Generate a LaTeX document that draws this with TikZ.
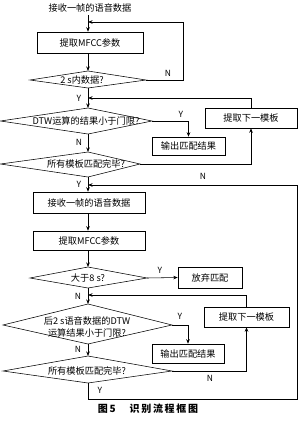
\documentclass[tikz,border=0pt]{standalone}
\usepackage{fontspec}
\setmainfont{Noto Sans CJK SC}
\usetikzlibrary{arrows.meta}
\begin{document}
\begin{tikzpicture}[x=1pt,y=-1pt,
  line width=0.55pt,
  every node/.style={font=\fontsize{9.2}{10}\selectfont, inner sep=0pt},
  box/.style={draw, rectangle},
  lbl/.style={font=\fontsize{8.5}{10}\selectfont},
  arr/.style={-{Stealth[length=4.5pt,width=3.5pt]}}]
\useasboundingbox (0,0) rectangle (300,426);
\fill[white] (0,0) rectangle (300,426);

% top text
\node (t0) at (90,8) {接收一帧的语音数据};
\coordinate (t0b) at (88,15);

% boxes
\node[box, minimum width=106pt, minimum height=21pt] (b1) at (90,42.5) {提取MFCC参数};
\node[box, minimum width=92pt, minimum height=20pt] (n1) at (251,118) {提取下一模板};
\node[box, minimum width=73pt, minimum height=18pt] (o1) at (188.5,146) {输出匹配结果};
\node[box, minimum width=112pt, minimum height=21pt] (r2) at (89,202.5) {接收一帧的语音数据};
\node[box, minimum width=112pt, minimum height=19pt] (m2) at (89,240.5) {提取MFCC参数};
\node[box, minimum width=64pt, minimum height=21pt] (dr) at (210,277.5) {放弃匹配};
\node[box, minimum width=85pt, minimum height=20pt] (n2) at (246.5,317) {提取下一模板};
\node[box, minimum width=72pt, minimum height=19pt] (o2) at (188,353.5) {输出匹配结果};

% diamond 1
\coordinate (d1T) at (88,71); \coordinate (d1L) at (30,80);
\coordinate (d1R) at (146,80); \coordinate (d1B) at (88,88);
\draw (d1T) -- (d1R) -- (d1B) -- (d1L) -- cycle;
\node (d1) at (82,80) {2 s内数据?};

% diamond 2
\coordinate (d2T) at (88,108); \coordinate (d2L) at (0.5,121);
\coordinate (d2R) at (152,121); \coordinate (d2B) at (88,134);
\draw (d2T) -- (d2R) -- (d2B) -- (d2L) -- cycle;
\node (d2) at (86,121) {DTW运算的结果小于门限?};

% diamond 3
\coordinate (d3T) at (88,152); \coordinate (d3L) at (0.5,164);
\coordinate (d3R) at (140,164); \coordinate (d3B) at (88,177);
\draw (d3T) -- (d3R) -- (d3B) -- (d3L) -- cycle;
\node (d3) at (86,164) {所有模板匹配完毕?};

% diamond 4
\coordinate (d4T) at (88,267); \coordinate (d4L) at (30,278);
\coordinate (d4R) at (147,278); \coordinate (d4B) at (88,288);
\draw (d4T) -- (d4R) -- (d4B) -- (d4L) -- cycle;
\node (d4) at (88,278) {大于8 s?};

% diamond 5
\coordinate (d5T) at (88,304); \coordinate (d5L) at (3,325);
\coordinate (d5R) at (172,325); \coordinate (d5B) at (88,344);
\draw (d5T) -- (d5R) -- (d5B) -- (d5L) -- cycle;
\node[align=center, font=\fontsize{9.2}{11.5}\selectfont] (d5) at (87,327) {后2 s语音数据的DTW\\运算结果小于门限?};

% diamond 6
\coordinate (d6T) at (88,356); \coordinate (d6L) at (3,371);
\coordinate (d6R) at (172,371); \coordinate (d6B) at (88,383);
\draw (d6T) -- (d6R) -- (d6B) -- (d6L) -- cycle;
\node (d6) at (87,371) {所有模板匹配完毕?};

% helper coordinates
\coordinate (j1) at (88,22);
\coordinate (j2) at (88,98);
\coordinate (j3) at (88,185);
\coordinate (j4) at (88,295);

% connectors
\draw[arr] (t0b) -- (b1.north -| t0b);
\draw[arr] (b1.south -| d1T) -- (d1T);
\draw[arr] (d1R) -- (183,80) -- (183,22) -- (j1);
\draw[arr] (d1B) -- (d2T);
\draw[arr] (n1.north) -- (n1.north |- j2) -- (j2);
\draw[arr] (d2R) -- (o1.north |- d2R) -- (o1.north);
\draw[arr] (d2B) -- (d3T);
\draw[arr] (d3R) -- (n1.south |- d3R) -- (n1.south);
\draw[arr] (d3B) -- (r2.north -| d3B);
\draw[arr] (r2.south -| d3B) -- (m2.north -| d3B);
\draw[arr] (m2.south -| d3B) -- (d4T);
\draw[arr] (d4R) -- (dr.west);
\draw[arr] (d4B) -- (d5T);
\draw[arr] (n2.north) -- (n2.north |- j4) -- (j4);
\draw[arr] (d5R) -- (o2.north |- d5R) -- (o2.north);
\draw[arr] (d5B) -- (d6T);
\draw[arr] (d6R) -- (n2.south |- d6R) -- (n2.south);
\draw[arr] (d6B) -- (88,399) -- (297,399) -- (297,185) -- (j3);

% labels
\node[lbl] at (168,73) {N};
\node[lbl] at (79,98) {Y};
\node[lbl] at (181,114) {Y};
\node[lbl] at (79,142) {N};
\node[lbl] at (79,184) {Y};
\node[lbl] at (203,176) {N};
\node[lbl] at (160,270) {Y};
\node[lbl] at (78,296) {N};
\node[lbl] at (180,316) {Y};
\node[lbl] at (78,349) {N};
\node[lbl] at (210,378) {N};
\node[lbl] at (100,390) {Y};

% caption
\node[font=\fontsize{10}{12}\selectfont\bfseries] (cap) at (148,409) {图\,5\hspace{14pt}识\,别\,流\,程\,框\,图};
\end{tikzpicture}
\end{document}
